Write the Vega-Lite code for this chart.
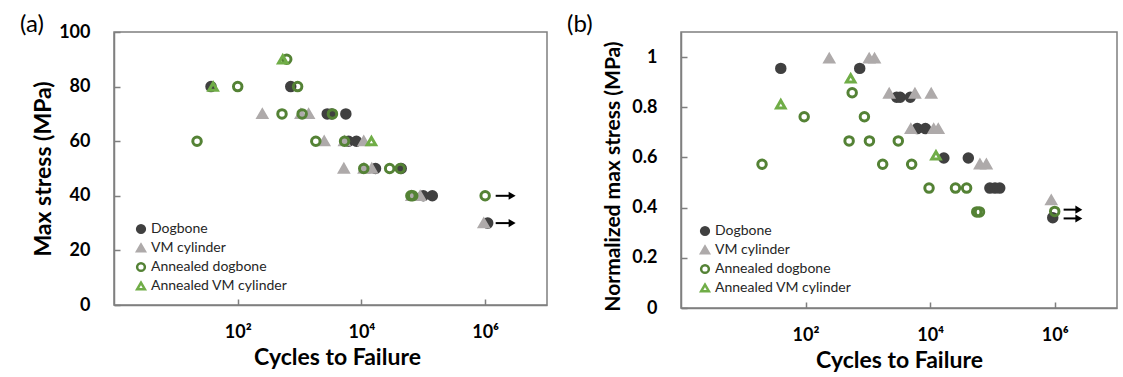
{
  "$schema": "https://vega.github.io/schema/vega-lite/v6.json",
  "background": "white",
  "padding": {"left": 19, "top": 12, "right": 0, "bottom": 0},
  "config": {
    "font": "Lato",
    "view": {"stroke": "#7f7f7f", "strokeWidth": 1.5},
    "concat": {"spacing": 18},
    "axis": {
      "grid": false,
      "domainColor": "#7f7f7f",
      "domainWidth": 1.5,
      "tickColor": "#7f7f7f",
      "tickWidth": 1.5,
      "labelFont": "Lato",
      "labelFontWeight": "bold",
      "labelFontSize": 18,
      "labelColor": "#000000",
      "titleFont": "Lato",
      "titleFontWeight": "bold",
      "titleFontSize": 23,
      "titleColor": "#000000"
    },
    "legend": {
      "labelFont": "Lato",
      "labelFontSize": 14,
      "labelColor": "#262626",
      "symbolSize": 60,
      "symbolStrokeWidth": 2.5,
      "rowPadding": 1,
      "labelOffset": 3
    },
    "title": {"font": "Lato", "fontSize": 24, "fontWeight": "normal", "anchor": "start", "frame": "group", "color": "#000000", "offset": -14}
  },
  "datasets": {
    "a": [
      {"series": "Dogbone", "N": 37, "v": 80},
      {"series": "Dogbone", "N": 720, "v": 80},
      {"series": "Dogbone", "N": 2800, "v": 70},
      {"series": "Dogbone", "N": 3300, "v": 70},
      {"series": "Dogbone", "N": 5600, "v": 70},
      {"series": "Dogbone", "N": 6200, "v": 60},
      {"series": "Dogbone", "N": 8300, "v": 60},
      {"series": "Dogbone", "N": 16900, "v": 50},
      {"series": "Dogbone", "N": 44000, "v": 50},
      {"series": "Dogbone", "N": 100000, "v": 40},
      {"series": "Dogbone", "N": 140000, "v": 40},
      {"series": "Dogbone", "N": 1100000, "v": 30},
      {"series": "VM cylinder", "N": 250, "v": 70},
      {"series": "VM cylinder", "N": 1050, "v": 70},
      {"series": "VM cylinder", "N": 1400, "v": 70},
      {"series": "VM cylinder", "N": 2500, "v": 60},
      {"series": "VM cylinder", "N": 5300, "v": 60},
      {"series": "VM cylinder", "N": 10900, "v": 60},
      {"series": "VM cylinder", "N": 5200, "v": 50},
      {"series": "VM cylinder", "N": 11000, "v": 50},
      {"series": "VM cylinder", "N": 14700, "v": 50},
      {"series": "VM cylinder", "N": 65000, "v": 40},
      {"series": "VM cylinder", "N": 89000, "v": 40},
      {"series": "VM cylinder", "N": 950000, "v": 30},
      {"series": "Annealed dogbone", "N": 620, "v": 90},
      {"series": "Annealed dogbone", "N": 100, "v": 80},
      {"series": "Annealed dogbone", "N": 930, "v": 80},
      {"series": "Annealed dogbone", "N": 520, "v": 70},
      {"series": "Annealed dogbone", "N": 1100, "v": 70},
      {"series": "Annealed dogbone", "N": 3400, "v": 70},
      {"series": "Annealed dogbone", "N": 22, "v": 60},
      {"series": "Annealed dogbone", "N": 1830, "v": 60},
      {"series": "Annealed dogbone", "N": 5340, "v": 60},
      {"series": "Annealed dogbone", "N": 10900, "v": 50},
      {"series": "Annealed dogbone", "N": 28600, "v": 50},
      {"series": "Annealed dogbone", "N": 42400, "v": 50},
      {"series": "Annealed dogbone", "N": 63000, "v": 40},
      {"series": "Annealed dogbone", "N": 67500, "v": 40},
      {"series": "Annealed dogbone", "N": 1000000, "v": 40},
      {"series": "Annealed VM cylinder", "N": 535, "v": 90},
      {"series": "Annealed VM cylinder", "N": 40, "v": 80},
      {"series": "Annealed VM cylinder", "N": 14500, "v": 60}
    ],
    "b": [
      {"series": "Dogbone", "N": 40, "v": 0.955},
      {"series": "Dogbone", "N": 740, "v": 0.955},
      {"series": "Dogbone", "N": 2900, "v": 0.84},
      {"series": "Dogbone", "N": 3300, "v": 0.84},
      {"series": "Dogbone", "N": 4800, "v": 0.84},
      {"series": "Dogbone", "N": 6200, "v": 0.715},
      {"series": "Dogbone", "N": 8400, "v": 0.715},
      {"series": "Dogbone", "N": 16600, "v": 0.598},
      {"series": "Dogbone", "N": 41000, "v": 0.598},
      {"series": "Dogbone", "N": 91000, "v": 0.478},
      {"series": "Dogbone", "N": 110000, "v": 0.478},
      {"series": "Dogbone", "N": 131000, "v": 0.478},
      {"series": "Dogbone", "N": 930000, "v": 0.36},
      {"series": "VM cylinder", "N": 240, "v": 0.995},
      {"series": "VM cylinder", "N": 1050, "v": 0.995},
      {"series": "VM cylinder", "N": 1280, "v": 0.995},
      {"series": "VM cylinder", "N": 2200, "v": 0.855},
      {"series": "VM cylinder", "N": 5700, "v": 0.855},
      {"series": "VM cylinder", "N": 10400, "v": 0.855},
      {"series": "VM cylinder", "N": 4900, "v": 0.714},
      {"series": "VM cylinder", "N": 11400, "v": 0.714},
      {"series": "VM cylinder", "N": 13500, "v": 0.714},
      {"series": "VM cylinder", "N": 63000, "v": 0.573},
      {"series": "VM cylinder", "N": 80000, "v": 0.573},
      {"series": "VM cylinder", "N": 880000, "v": 0.43},
      {"series": "Annealed dogbone", "N": 560, "v": 0.858},
      {"series": "Annealed dogbone", "N": 95, "v": 0.762},
      {"series": "Annealed dogbone", "N": 880, "v": 0.762},
      {"series": "Annealed dogbone", "N": 500, "v": 0.666},
      {"series": "Annealed dogbone", "N": 1060, "v": 0.666},
      {"series": "Annealed dogbone", "N": 3080, "v": 0.666},
      {"series": "Annealed dogbone", "N": 20, "v": 0.573},
      {"series": "Annealed dogbone", "N": 1730, "v": 0.573},
      {"series": "Annealed dogbone", "N": 5050, "v": 0.573},
      {"series": "Annealed dogbone", "N": 9600, "v": 0.478},
      {"series": "Annealed dogbone", "N": 25500, "v": 0.478},
      {"series": "Annealed dogbone", "N": 38500, "v": 0.478},
      {"series": "Annealed dogbone", "N": 56000, "v": 0.383},
      {"series": "Annealed dogbone", "N": 62000, "v": 0.383},
      {"series": "Annealed dogbone", "N": 1000000, "v": 0.385},
      {"series": "Annealed VM cylinder", "N": 530, "v": 0.915},
      {"series": "Annealed VM cylinder", "N": 40, "v": 0.812},
      {"series": "Annealed VM cylinder", "N": 12400, "v": 0.608}
    ],
    "arrA": [
      {"x0": 1480000, "x1": 2500000, "xh": 2730000, "y": 40},
      {"x0": 1480000, "x1": 2500000, "xh": 2730000, "y": 30}
    ],
    "arrB": [
      {"x0": 1390000, "x1": 2240000, "xh": 2440000, "y": 0.392},
      {"x0": 1390000, "x1": 2240000, "xh": 2440000, "y": 0.357}
    ]
  },
  "resolve": {
    "scale": {"x": "independent", "y": "independent", "fill": "independent", "stroke": "independent", "shape": "independent"},
    "legend": {"fill": "independent", "stroke": "independent", "shape": "independent"}
  },
  "hconcat": [
    {
      "width": 433,
      "height": 273,
      "title": {"text": "(a)", "dx": -94},
      "layer": [
        {
          "data": {"name": "a"},
          "mark": {"type": "point", "opacity": 1, "size": 72, "strokeWidth": 3},
          "encoding": {
            "x": {"field": "N", "type": "quantitative", "title": "Cycles to Failure",
              "scale": {"type": "log", "domain": [1, 10000000]},
              "axis": {"values": [100, 10000, 1000000], "labelExpr": "datum.value == 100 ? '10²' : datum.value == 10000 ? '10⁴' : '10⁶'", "tickSize": -6, "labelPadding": 24, "titlePadding": 5, "titleX": 223}},
            "y": {"field": "v", "type": "quantitative", "title": "Max stress (MPa)",
              "scale": {"domain": [0, 100]},
              "axis": {"values": [0, 10, 20, 30, 40, 50, 60, 70, 80, 90, 100], "tickSize": -6, "labelPadding": 30, "titleX": -59}},
            "shape": {"field": "series", "type": "nominal", "scale": {"domain": ["Dogbone", "VM cylinder", "Annealed dogbone", "Annealed VM cylinder"], "range": ["circle", "triangle-up", "circle", "triangle-up"]}, "legend": {"orient": "none", "title": null, "legendX": 20, "legendY": 190}},
            "fill": {"field": "series", "type": "nominal", "scale": {"domain": ["Dogbone", "VM cylinder", "Annealed dogbone", "Annealed VM cylinder"], "range": ["#404040", "#aeaaaa", "transparent", "transparent"]}, "legend": {"orient": "none", "title": null, "legendX": 20, "legendY": 190}},
            "stroke": {"field": "series", "type": "nominal", "scale": {"domain": ["Dogbone", "VM cylinder", "Annealed dogbone", "Annealed VM cylinder"], "range": ["#404040", "#aeaaaa", "#548235", "#70ad47"]}, "legend": {"orient": "none", "title": null, "legendX": 20, "legendY": 190}}
          }
        },
        {
          "data": {"name": "arrA"},
          "mark": {"type": "rule", "color": "#000000", "strokeWidth": 2},
          "encoding": {
            "x": {"field": "x0", "type": "quantitative", "title": "Cycles to Failure"},
            "x2": {"field": "x1"},
            "y": {"field": "y", "type": "quantitative", "title": "Max stress (MPa)"}
          }
        },
        {
          "data": {"name": "arrA"},
          "mark": {"type": "point", "shape": "triangle-right", "filled": true, "color": "#000000", "size": 65, "opacity": 1},
          "encoding": {
            "x": {"field": "xh", "type": "quantitative", "title": "Cycles to Failure"},
            "y": {"field": "y", "type": "quantitative", "title": "Max stress (MPa)"}
          }
        }
      ]
    },
    {
      "width": 436,
      "height": 276,
      "title": {"text": "(b)", "dx": -114, "dy": -9},
      "layer": [
        {
          "data": {"name": "b"},
          "mark": {"type": "point", "opacity": 1, "size": 72, "strokeWidth": 3},
          "encoding": {
            "x": {"field": "N", "type": "quantitative", "title": "Cycles to Failure",
              "scale": {"type": "log", "domain": [1, 10000000]},
              "axis": {"values": [100, 10000, 1000000], "labelExpr": "datum.value == 100 ? '10²' : datum.value == 10000 ? '10⁴' : '10⁶'", "tickSize": -6, "labelPadding": 24, "titlePadding": 5}},
            "y": {"field": "v", "type": "quantitative", "title": "Normalized max stress (MPa)",
              "scale": {"domain": [0, 1.1]},
              "axis": {"values": [0, 0.2, 0.4, 0.6, 0.8, 1], "labelExpr": "format(datum.value, '~g')", "tickSize": -6, "labelPadding": 30, "titleX": -58, "titleFontSize": 21, "titleY": 144}},
            "shape": {"field": "series", "type": "nominal", "scale": {"domain": ["Dogbone", "VM cylinder", "Annealed dogbone", "Annealed VM cylinder"], "range": ["circle", "triangle-up", "circle", "triangle-up"]}, "legend": {"orient": "none", "title": null, "legendX": 17, "legendY": 192}},
            "fill": {"field": "series", "type": "nominal", "scale": {"domain": ["Dogbone", "VM cylinder", "Annealed dogbone", "Annealed VM cylinder"], "range": ["#404040", "#aeaaaa", "transparent", "transparent"]}, "legend": {"orient": "none", "title": null, "legendX": 17, "legendY": 192}},
            "stroke": {"field": "series", "type": "nominal", "scale": {"domain": ["Dogbone", "VM cylinder", "Annealed dogbone", "Annealed VM cylinder"], "range": ["#404040", "#aeaaaa", "#548235", "#70ad47"]}, "legend": {"orient": "none", "title": null, "legendX": 17, "legendY": 192}}
          }
        },
        {
          "data": {"name": "arrB"},
          "mark": {"type": "rule", "color": "#000000", "strokeWidth": 2},
          "encoding": {
            "x": {"field": "x0", "type": "quantitative", "title": "Cycles to Failure"},
            "x2": {"field": "x1"},
            "y": {"field": "y", "type": "quantitative", "title": "Normalized max stress (MPa)"}
          }
        },
        {
          "data": {"name": "arrB"},
          "mark": {"type": "point", "shape": "triangle-right", "filled": true, "color": "#000000", "size": 65, "opacity": 1},
          "encoding": {
            "x": {"field": "xh", "type": "quantitative", "title": "Cycles to Failure"},
            "y": {"field": "y", "type": "quantitative", "title": "Normalized max stress (MPa)"}
          }
        }
      ]
    }
  ]
}
